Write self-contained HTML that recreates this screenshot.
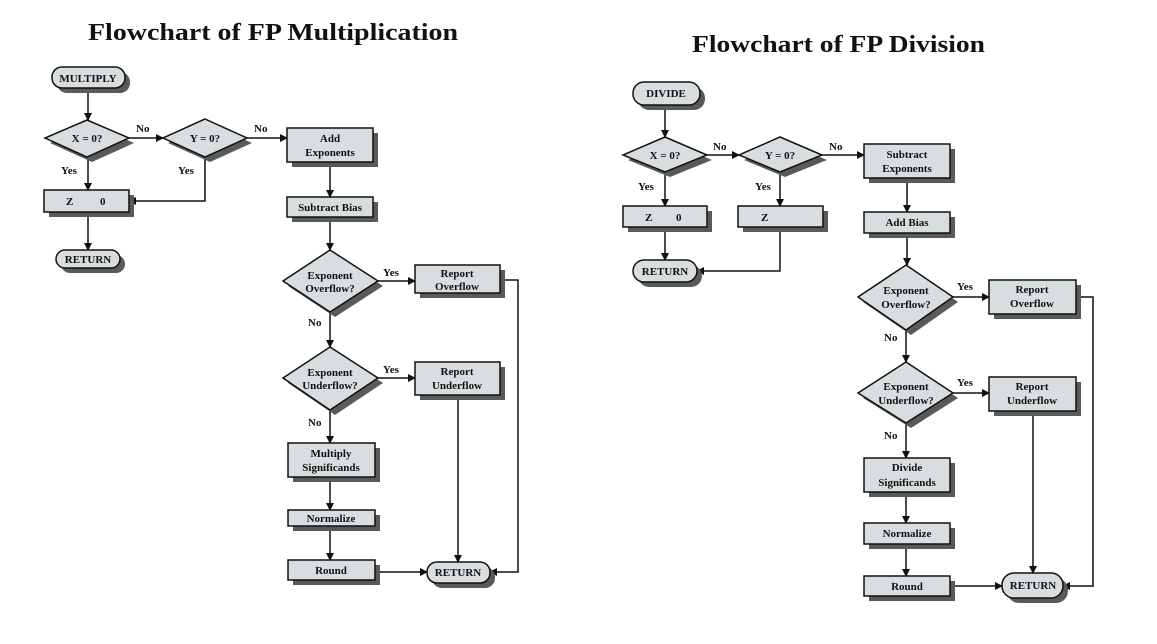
<!DOCTYPE html>
<html><head><meta charset="utf-8"><style>
html,body{margin:0;padding:0;background:#fff}
svg{display:block}
text{font-family:"Liberation Serif",serif;font-weight:bold;fill:#111}
.t{font-size:11px;text-anchor:middle}
.l{font-size:11px}
.s{fill:#5a5a5a;stroke:none}
.f{fill:#d8dde0;stroke:#111;stroke-width:1.5}
.c{stroke:#111;stroke-width:1.5;fill:none}
</style></head><body>
<svg width="1157" height="644" viewBox="0 0 1157 644" xmlns="http://www.w3.org/2000/svg">
<defs><marker id="a" markerWidth="8" markerHeight="8" refX="7" refY="4" orient="auto" markerUnits="userSpaceOnUse"><path d="M0,0 L8,4 L0,8 z" fill="#111"/></marker></defs>

<text x="88" y="40" font-size="24" textLength="370" lengthAdjust="spacingAndGlyphs">Flowchart of FP Multiplication</text>
<text x="692" y="52" font-size="24" textLength="293" lengthAdjust="spacingAndGlyphs">Flowchart of FP Division</text>

<!-- LEFT connectors -->
<g class="c">
<line x1="88" y1="88" x2="88" y2="120" marker-end="url(#a)"/>
<line x1="129" y1="138" x2="163" y2="138" marker-end="url(#a)"/>
<line x1="247" y1="138" x2="287" y2="138" marker-end="url(#a)"/>
<line x1="88" y1="157" x2="88" y2="190" marker-end="url(#a)"/>
<polyline points="205,157 205,201 129,201" marker-end="url(#a)"/>
<line x1="88" y1="212" x2="88" y2="250" marker-end="url(#a)"/>
<line x1="330" y1="162" x2="330" y2="197" marker-end="url(#a)"/>
<line x1="330" y1="217" x2="330" y2="250" marker-end="url(#a)"/>
<line x1="378" y1="281" x2="415" y2="281" marker-end="url(#a)"/>
<line x1="330" y1="312" x2="330" y2="347" marker-end="url(#a)"/>
<line x1="378" y1="378" x2="415" y2="378" marker-end="url(#a)"/>
<line x1="330" y1="410" x2="330" y2="443" marker-end="url(#a)"/>
<line x1="330" y1="477" x2="330" y2="510" marker-end="url(#a)"/>
<line x1="330" y1="526" x2="330" y2="560" marker-end="url(#a)"/>
<line x1="375" y1="572" x2="427" y2="572" marker-end="url(#a)"/>
<line x1="458" y1="395" x2="458" y2="562" marker-end="url(#a)"/>
<polyline points="500,280 518,280 518,572 490,572" marker-end="url(#a)"/>
</g>

<!-- LEFT shapes -->
<rect class="s" x="57" y="72" width="73" height="21" rx="10"/><rect class="f" x="52" y="67" width="73" height="21" rx="10"/>
<text class="t" x="88" y="82">MULTIPLY</text>
<polygon class="s" points="92,125 134,143 92,162 50,143"/><polygon class="f" points="87,120 129,138 87,157 45,138"/>
<text class="t" x="87" y="142">X = 0?</text>
<polygon class="s" points="210,124 252,143 210,162 168,143"/><polygon class="f" points="205,119 247,138 205,157 163,138"/>
<text class="t" x="205" y="142">Y = 0?</text>
<rect class="s" x="292" y="133" width="86" height="34"/><rect class="f" x="287" y="128" width="86" height="34"/>
<text class="t" x="330" y="142">Add</text><text class="t" x="330" y="156">Exponents</text>
<rect class="s" x="49" y="195" width="85" height="22"/><rect class="f" x="44" y="190" width="85" height="22"/>
<text class="l" x="66" y="205">Z</text><text class="l" x="100" y="205">0</text>
<rect class="s" x="61" y="255" width="64" height="18" rx="9"/><rect class="f" x="56" y="250" width="64" height="18" rx="9"/>
<text class="t" x="88" y="263">RETURN</text>
<rect class="s" x="292" y="202" width="86" height="20"/><rect class="f" x="287" y="197" width="86" height="20"/>
<text class="t" x="330" y="211">Subtract Bias</text>
<polygon class="s" points="335,255 383,286 335,317 288,286"/><polygon class="f" points="330,250 378,281 330,312 283,281"/>
<text class="t" x="330" y="279">Exponent</text><text class="t" x="330" y="292">Overflow?</text>
<rect class="s" x="420" y="270" width="85" height="28"/><rect class="f" x="415" y="265" width="85" height="28"/>
<text class="t" x="457" y="277">Report</text><text class="t" x="457" y="290">Overflow</text>
<polygon class="s" points="335,352 383,383 335,415 288,383"/><polygon class="f" points="330,347 378,378 330,410 283,378"/>
<text class="t" x="330" y="376">Exponent</text><text class="t" x="330" y="389">Underflow?</text>
<rect class="s" x="420" y="367" width="85" height="33"/><rect class="f" x="415" y="362" width="85" height="33"/>
<text class="t" x="457" y="375">Report</text><text class="t" x="457" y="389">Underflow</text>
<rect class="s" x="293" y="448" width="87" height="34"/><rect class="f" x="288" y="443" width="87" height="34"/>
<text class="t" x="331" y="457">Multiply</text><text class="t" x="331" y="471">Significands</text>
<rect class="s" x="293" y="515" width="87" height="16"/><rect class="f" x="288" y="510" width="87" height="16"/>
<text class="t" x="331" y="522">Normalize</text>
<rect class="s" x="293" y="565" width="87" height="20"/><rect class="f" x="288" y="560" width="87" height="20"/>
<text class="t" x="331" y="574">Round</text>
<rect class="s" x="432" y="567" width="63" height="21" rx="10"/><rect class="f" x="427" y="562" width="63" height="21" rx="10"/>
<text class="t" x="458" y="576">RETURN</text>
<text class="l" x="136" y="132">No</text><text class="l" x="254" y="132">No</text>
<text class="l" x="61" y="174">Yes</text><text class="l" x="178" y="174">Yes</text>
<text class="l" x="383" y="276">Yes</text><text class="l" x="308" y="326">No</text>
<text class="l" x="383" y="373">Yes</text><text class="l" x="308" y="426">No</text>

<!-- RIGHT connectors -->
<g class="c">
<line x1="665" y1="105" x2="665" y2="137" marker-end="url(#a)"/>
<line x1="707" y1="155" x2="739" y2="155" marker-end="url(#a)"/>
<line x1="822" y1="155" x2="864" y2="155" marker-end="url(#a)"/>
<line x1="665" y1="172" x2="665" y2="206" marker-end="url(#a)"/>
<line x1="780" y1="172" x2="780" y2="206" marker-end="url(#a)"/>
<line x1="665" y1="227" x2="665" y2="260" marker-end="url(#a)"/>
<polyline points="780,227 780,271 697,271" marker-end="url(#a)"/>
<line x1="907" y1="178" x2="907" y2="212" marker-end="url(#a)"/>
<line x1="907" y1="233" x2="907" y2="265" marker-end="url(#a)"/>
<line x1="953" y1="297" x2="989" y2="297" marker-end="url(#a)"/>
<line x1="906" y1="330" x2="906" y2="362" marker-end="url(#a)"/>
<line x1="953" y1="393" x2="989" y2="393" marker-end="url(#a)"/>
<line x1="906" y1="423" x2="906" y2="458" marker-end="url(#a)"/>
<line x1="906" y1="492" x2="906" y2="523" marker-end="url(#a)"/>
<line x1="906" y1="544" x2="906" y2="576" marker-end="url(#a)"/>
<line x1="950" y1="586" x2="1002" y2="586" marker-end="url(#a)"/>
<line x1="1033" y1="411" x2="1033" y2="573" marker-end="url(#a)"/>
<polyline points="1076,297 1093,297 1093,586 1063,586" marker-end="url(#a)"/>
</g>

<!-- RIGHT shapes -->
<rect class="s" x="638" y="87" width="67" height="23" rx="11"/><rect class="f" x="633" y="82" width="67" height="23" rx="11"/>
<text class="t" x="666" y="97">DIVIDE</text>
<polygon class="s" points="670,142 712,160 670,177 628,160"/><polygon class="f" points="665,137 707,155 665,172 623,155"/>
<text class="t" x="665" y="159">X = 0?</text>
<polygon class="s" points="785,142 827,160 785,177 744,160"/><polygon class="f" points="780,137 822,155 780,172 739,155"/>
<text class="t" x="780" y="159">Y = 0?</text>
<rect class="s" x="869" y="149" width="86" height="34"/><rect class="f" x="864" y="144" width="86" height="34"/>
<text class="t" x="907" y="158">Subtract</text><text class="t" x="907" y="172">Exponents</text>
<rect class="s" x="628" y="211" width="84" height="21"/><rect class="f" x="623" y="206" width="84" height="21"/>
<text class="l" x="645" y="221">Z</text><text class="l" x="676" y="221">0</text>
<rect class="s" x="743" y="211" width="85" height="21"/><rect class="f" x="738" y="206" width="85" height="21"/>
<text class="l" x="761" y="221">Z</text>
<rect class="s" x="869" y="217" width="86" height="21"/><rect class="f" x="864" y="212" width="86" height="21"/>
<text class="t" x="907" y="226">Add Bias</text>
<rect class="s" x="638" y="265" width="64" height="22" rx="11"/><rect class="f" x="633" y="260" width="64" height="22" rx="11"/>
<text class="t" x="665" y="275">RETURN</text>
<polygon class="s" points="911,270 958,302 911,335 863,302"/><polygon class="f" points="906,265 953,297 906,330 858,297"/>
<text class="t" x="906" y="294">Exponent</text><text class="t" x="906" y="308">Overflow?</text>
<rect class="s" x="994" y="285" width="87" height="34"/><rect class="f" x="989" y="280" width="87" height="34"/>
<text class="t" x="1032" y="293">Report</text><text class="t" x="1032" y="307">Overflow</text>
<polygon class="s" points="911,367 958,398 911,428 863,398"/><polygon class="f" points="906,362 953,393 906,423 858,393"/>
<text class="t" x="906" y="390">Exponent</text><text class="t" x="906" y="404">Underflow?</text>
<rect class="s" x="994" y="382" width="87" height="34"/><rect class="f" x="989" y="377" width="87" height="34"/>
<text class="t" x="1032" y="390">Report</text><text class="t" x="1032" y="404">Underflow</text>
<rect class="s" x="869" y="463" width="86" height="34"/><rect class="f" x="864" y="458" width="86" height="34"/>
<text class="t" x="907" y="471">Divide</text><text class="t" x="907" y="486">Significands</text>
<rect class="s" x="869" y="528" width="86" height="21"/><rect class="f" x="864" y="523" width="86" height="21"/>
<text class="t" x="907" y="537">Normalize</text>
<rect class="s" x="869" y="581" width="86" height="20"/><rect class="f" x="864" y="576" width="86" height="20"/>
<text class="t" x="907" y="590">Round</text>
<rect class="s" x="1007" y="578" width="61" height="25" rx="12"/><rect class="f" x="1002" y="573" width="61" height="25" rx="12"/>
<text class="t" x="1033" y="589">RETURN</text>
<text class="l" x="713" y="150">No</text><text class="l" x="829" y="150">No</text>
<text class="l" x="638" y="190">Yes</text><text class="l" x="755" y="190">Yes</text>
<text class="l" x="957" y="290">Yes</text><text class="l" x="884" y="341">No</text>
<text class="l" x="957" y="386">Yes</text><text class="l" x="884" y="439">No</text>
</svg>
</body></html>
